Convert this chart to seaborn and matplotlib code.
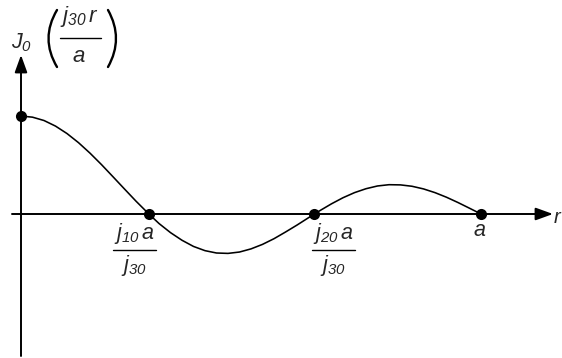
import matplotlib
matplotlib.use("Agg")
import matplotlib.pyplot as plt
import seaborn as sns
import pandas as pd
from matplotlib.patches import FancyArrowPatch, PathPatch
from matplotlib.path import Path

# J0(j30 r / a) sampled along r / a
r_over_a = [0.0, 0.025, 0.05, 0.075, 0.1, 0.125, 0.15, 0.175, 0.2, 0.225, 0.25, 0.278,
            0.3, 0.325, 0.35, 0.375, 0.4, 0.425, 0.45, 0.475, 0.5, 0.525, 0.55, 0.575,
            0.6, 0.625, 0.638, 0.65, 0.675, 0.7, 0.725, 0.75, 0.775, 0.8, 0.825, 0.85,
            0.875, 0.9, 0.925, 0.95, 0.975, 1.0]
j0_values = [1.0, 0.988, 0.954, 0.897, 0.821, 0.728, 0.621, 0.504, 0.380, 0.255, 0.131, 0.0,
             -0.097, -0.190, -0.268, -0.331, -0.374, -0.398, -0.402, -0.388, -0.356, -0.310,
             -0.252, -0.184, -0.113, -0.038, 0.0, 0.035, 0.104, 0.166, 0.218, 0.258, 0.286,
             0.299, 0.297, 0.283, 0.256, 0.218, 0.171, 0.117, 0.059, 0.0]

# marked points: J0(0) and the zeros j10 a / j30, j20 a / j30, a
dot_r = [0.0, 0.278, 0.638, 1.0]
dot_v = [1.0, 0.0, 0.0, 0.0]

# tick labels on the r axis: (numerator, denominator) for fractions
tick_numerators = [r"$j_{10}\,a$", r"$j_{20}\,a$"]
tick_denominators = [r"$j_{30}$", r"$j_{30}$"]
end_label = r"$a$"
x_label = r"$r$"
y_label_fn = r"$J_0$"
y_label_num = r"$j_{30}\,r$"
y_label_den = r"$a$"

sns.set_style("white")
plt.rcParams["font.family"] = ["Liberation Sans", "DejaVu Sans"]
plt.rcParams["mathtext.fontset"] = "custom"
plt.rcParams["mathtext.it"] = "Liberation Sans:italic"
plt.rcParams["mathtext.rm"] = "Liberation Sans:italic"
plt.rcParams["mathtext.sf"] = "Liberation Sans:italic"

W, H = 562, 358
fig = plt.figure(figsize=(W / 100, H / 100), dpi=100)
ax = fig.add_axes([0, 0, 1, 1])

# pixel frame: origin at (21, 214), r = a at x = 481, J0 = 1 at y = 116
X0, XA, Y0, SY = 21.0, 460.0, 214.0, 98.0
def px(x, y):
    return (x - X0) / XA, (Y0 - y) / SY

x_lo, y_hi = px(0, 0)
x_hi, y_lo = px(W, H)
ax.set_xlim(x_lo, x_hi)
ax.set_ylim(y_lo, y_hi)
ax.axis("off")

# axes with arrowheads
for start, end in [(px(12, Y0), px(553, Y0)), (px(X0, 356), px(X0, 55))]:
    ax.add_patch(FancyArrowPatch(start, end, arrowstyle="-|>,head_length=1.05,head_width=0.38",
                                 mutation_scale=10, color="black", lw=1.4,
                                 shrinkA=0, shrinkB=0, zorder=2))

df = pd.DataFrame({"r": r_over_a, "J0": j0_values})
sns.lineplot(data=df, x="r", y="J0", ax=ax, color="black", linewidth=1.15, sort=False, zorder=3)

dots = pd.DataFrame({"r": dot_r, "J0": dot_v})
sns.scatterplot(data=dots, x="r", y="J0", ax=ax, color="black", s=64, edgecolor="black",
                linewidth=0, zorder=4)
ax.set_xlabel("")
ax.set_ylabel("")

fs = 15.5

def fraction(cx, num, den, x_left, x_right, y_line, num_base, den_base, size, den_dx=0):
    ax.text(*px(cx, num_base), num, fontsize=size, ha="center", va="baseline")
    ax.plot(*zip(px(x_left, y_line), px(x_right, y_line)), color="black", lw=1.0)
    ax.text(*px(cx + den_dx, den_base), den, fontsize=size, ha="center", va="baseline")

# fractional tick labels below the zeros
fraction(134, tick_numerators[0], tick_denominators[0], 113, 156, 250, 239, 271, fs)
fraction(333, tick_numerators[1], tick_denominators[1], 312, 355, 250, 239, 271, fs)
ax.text(*px(480, 236), end_label, fontsize=fs, ha="center", va="baseline")
ax.text(*px(553, 223), x_label, fontsize=fs - 1, ha="left", va="baseline")

# y-axis label J0( j30 r / a ) with tall drawn parentheses
ax.text(*px(11, 48), y_label_fn, fontsize=15.5, ha="left", va="baseline")
fraction(79, y_label_num, y_label_den, 60, 101, 38, 22, 62, 16)

def paren(x_end, x_ctrl, y_top, y_bot):
    verts = [px(x_end, y_top), px(x_ctrl, (y_top + y_bot) / 2), px(x_end, y_bot)]
    path = Path(verts, [Path.MOVETO, Path.CURVE3, Path.CURVE3])
    ax.add_patch(PathPatch(path, facecolor="none", edgecolor="black", lw=1.7, capstyle="round"))

paren(57, 40, 10, 67)
paren(108, 124, 10, 67)

fig.savefig("out.png", dpi=100)
